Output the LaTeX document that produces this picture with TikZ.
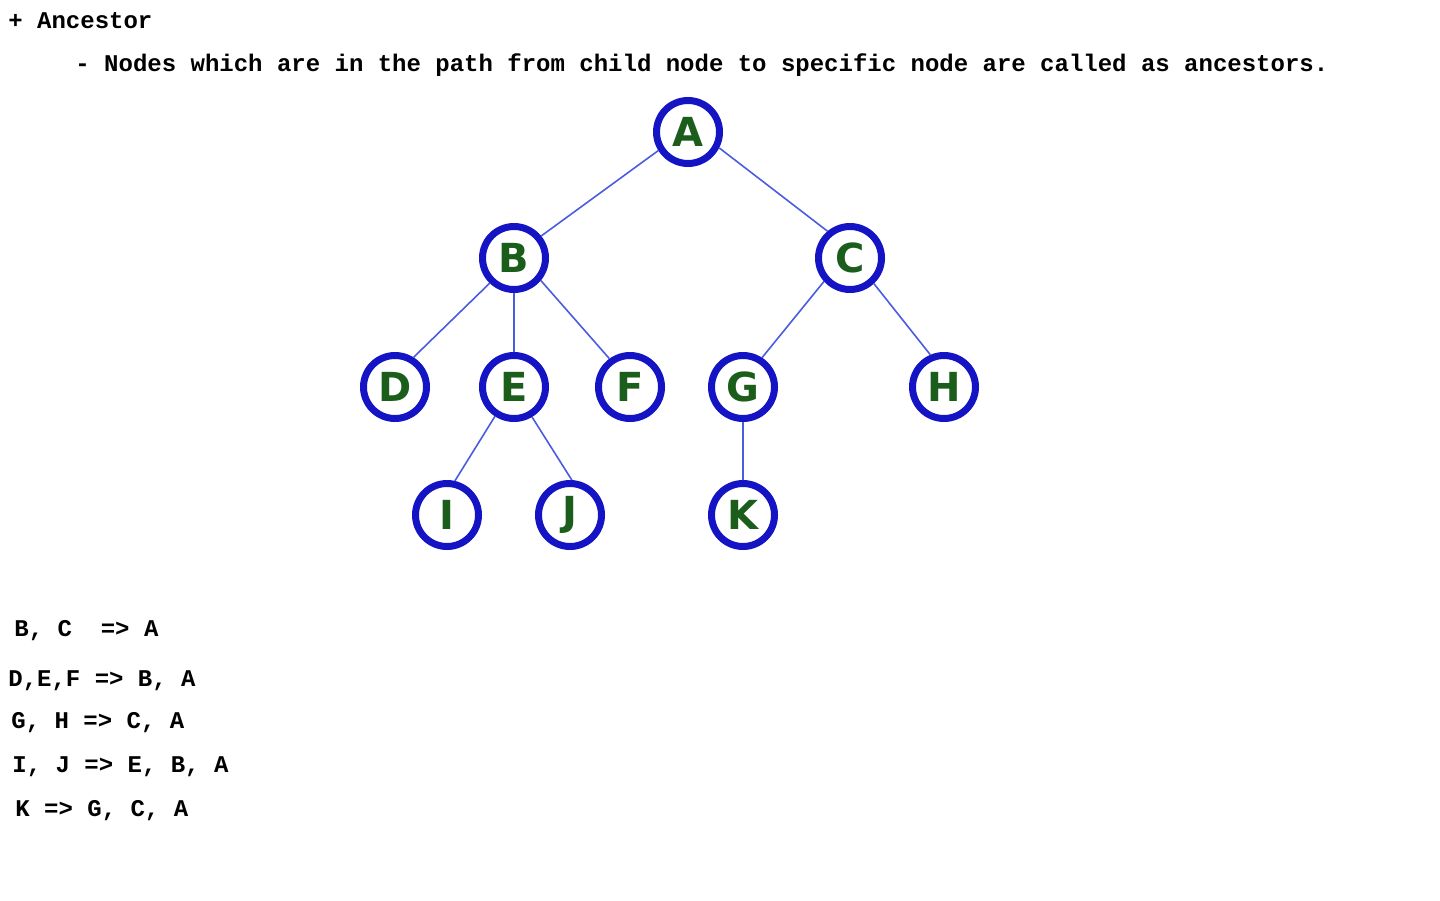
\documentclass[tikz,border=0pt]{standalone}
\usepackage{fontspec}
\usepackage{tikz}
\usetikzlibrary{positioning}
\newfontfamily\codefont{Liberation Mono}
\newfontfamily\letterfont{DejaVu Sans}
\definecolor{ringblue}{HTML}{1414C4}
\definecolor{edgeblue}{HTML}{4A5CE0}
\definecolor{lettergreen}{HTML}{1B5E1B}
\tikzset{
    treenode/.style={circle, draw=ringblue, line width=3.5pt, fill=white, minimum size=31.5pt, inner sep=0pt, text=lettergreen, font=\letterfont\bfseries\fontsize{20}{20}\selectfont},
    treeedge/.style={draw=edgeblue, line width=0.8pt},
    codeline/.style={anchor=base west, inner sep=0pt, font=\codefont\bfseries\fontsize{12}{12}\selectfont}
}
\begin{document}
\begin{tikzpicture}[x=0.5pt, y=-0.5pt]
    \useasboundingbox (0,0) rectangle (1440,900);

    % Heading
    \node[codeline] (title) at (8,28) {+ Ancestor};
    \node[codeline] (defn) at (75,71) {- Nodes which are in the path from child node to specific node are called as ancestors.};

    % Tree nodes
    \node[treenode] (A) at (688,132) {A};
    \node[treenode] (B) at (514,258) {B};
    \node[treenode] (C) at (850,258) {C};
    \node[treenode] (D) at (395,387) {D};
    \node[treenode] (E) at (514,387) {E};
    \node[treenode] (F) at (630,387) {F};
    \node[treenode] (G) at (743,387) {G};
    \node[treenode] (H) at (944,387) {H};
    \node[treenode] (I) at (447,515) {I};
    \node[treenode] (J) at (570,515) {J};
    \node[treenode] (K) at (743,515) {K};

    % Tree edges
    \draw[treeedge] (A.212) -- (B.39);
    \draw[treeedge] (A.333) -- (C.130);
    \draw[treeedge] (B.226) -- (D.58);
    \draw[treeedge] (B.270) -- (E.90);
    \draw[treeedge] (B.320) -- (F.126);
    \draw[treeedge] (C.222) -- (G.57);
    \draw[treeedge] (C.313) -- (H.113);
    \draw[treeedge] (E.237) -- (I.77);
    \draw[treeedge] (E.301) -- (J.87);
    \draw[treeedge] (G.270) -- (K.90);

    % Ancestor list
    \node[codeline] (row1) at (14,636) {B, C~~=> A};
    \node[codeline] (row2) at (8,686) {D,E,F => B, A};
    \node[codeline] (row3) at (11,728) {G, H => C, A};
    \node[codeline] (row4) at (12,772) {I, J => E, B, A};
    \node[codeline] (row5) at (15,816) {K => G, C, A};
\end{tikzpicture}
\end{document}
